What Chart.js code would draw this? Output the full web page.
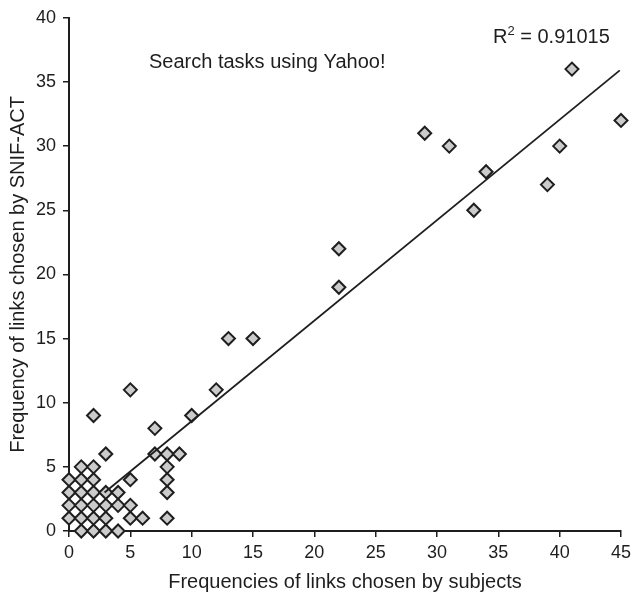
<!DOCTYPE html>
<html>
<head>
<meta charset="utf-8">
<script src="https://cdn.jsdelivr.net/npm/chart.js@4/dist/chart.umd.min.js"></script>
<style>
  html, body { margin: 0; padding: 0; background: #fff; }
  #wrap { width: 633px; height: 598px; position: relative; }
</style>
</head>
<body>
<div id="wrap"><canvas id="scatter"></canvas></div>
<script>
// Links chosen by subjects (x) vs. by SNIF-ACT (y), one entry per link
const subjectFreq = [
  0, 0, 0, 0,
  1, 1, 1, 1, 1, 1,
  2, 2, 2, 2, 2, 2, 2,
  3, 3, 3, 3, 3,
  4, 4, 4,
  5, 5, 5, 5,
  6,
  7, 7,
  8, 8, 8, 8, 8,
  9, 10, 12, 13, 15,
  22, 22,
  29, 31, 33, 34, 39, 40, 41, 45
];
const snifFreq = [
  1, 2, 3, 4,
  0, 1, 2, 3, 4, 5,
  0, 1, 2, 3, 4, 5, 9,
  0, 1, 2, 3, 6,
  0, 2, 3,
  1, 2, 4, 11,
  1,
  6, 8,
  1, 3, 4, 5, 6,
  6, 9, 11, 15, 15,
  19, 22,
  31, 30, 25, 28, 27, 30, 36, 32
];

// Fitted line, endpoints
const trendX = [2.9, 44.9];
const trendY = [3.0, 35.9];

const xTicks = [0, 45, 5];   // min, max, step
const yTicks = [0, 40, 5];

const label = 'Search tasks using Yahoo!';
const rSquaredValue = ' = 0.91015';

const FONT = "'Liberation Sans', Arial, sans-serif";
const INK = '#1e1e1e';

// Free-floating labels inside the plot (R with a raised 2)
const annotations = {
  id: 'annotations',
  afterDatasetsDraw(chart) {
    const ctx = chart.ctx;
    ctx.save();
    ctx.fillStyle = INK;
    ctx.textBaseline = 'alphabetic';
    ctx.textAlign = 'left';
    ctx.font = `20px ${FONT}`;
    ctx.fillText(label, 149, 68);

    let x = 493;
    ctx.fillText('R', x, 43);
    x += ctx.measureText('R').width;
    ctx.font = `13px ${FONT}`;
    ctx.fillText('2', x, 35);
    x += ctx.measureText('2').width;
    ctx.font = `20px ${FONT}`;
    ctx.fillText(rSquaredValue, x, 43);
    ctx.restore();
  }
};

const points = subjectFreq.map((x, i) => ({ x, y: snifFreq[i] }));
const trend = trendX.map((x, i) => ({ x, y: trendY[i] }));

const axisBase = {
  type: 'linear',
  grid: {
    display: true,
    drawOnChartArea: false,
    drawTicks: true,
    tickLength: 6,
    color: INK,
    lineWidth: 1.5
  },
  border: { display: true, color: INK, width: 2 },
  ticks: {
    font: { family: FONT, size: 18 },
    color: INK
  },
  title: {
    display: true,
    font: { family: FONT, size: 20 },
    color: INK
  }
};

new Chart(document.getElementById('scatter').getContext('2d'), {
  type: 'scatter',
  data: {
    datasets: [
      {
        type: 'line',
        data: trend,
        borderColor: INK,
        borderWidth: 1.8,
        pointRadius: 0,
        fill: false,
        order: 0
      },
      {
        data: points,
        pointStyle: 'rectRot',
        pointRadius: 6.5,
        backgroundColor: '#cbcbcb',
        borderColor: INK,
        borderWidth: 2,
        clip: false,
        order: 1
      }
    ]
  },
  options: {
    responsive: true,
    maintainAspectRatio: false,
    animation: false,
    layout: { padding: { top: 14, right: 12, left: 0, bottom: 0 } },
    plugins: {
      legend: { display: false },
      tooltip: { enabled: false }
    },
    scales: {
      x: {
        ...axisBase,
        min: xTicks[0],
        max: xTicks[1],
        ticks: { ...axisBase.ticks, stepSize: xTicks[2], padding: 5, maxRotation: 0 },
        title: { ...axisBase.title, text: 'Frequencies of links chosen by subjects', padding: { top: 0, bottom: 4 } },
        // fixed box so the plot area lines up with the figure
        afterFit: (scale) => {
          scale.height = 67;
          scale.paddingLeft = 0;
          scale.paddingRight = 0;
        }
      },
      y: {
        ...axisBase,
        min: yTicks[0],
        max: yTicks[1],
        ticks: { ...axisBase.ticks, stepSize: yTicks[2], padding: 7 },
        title: { ...axisBase.title, text: 'Frequency of links chosen by SNIF-ACT', padding: { top: 6, bottom: 0 } },
        afterFit: (scale) => { scale.width = 69; }
      }
    }
  },
  plugins: [annotations]
});
</script>
</body>
</html>
